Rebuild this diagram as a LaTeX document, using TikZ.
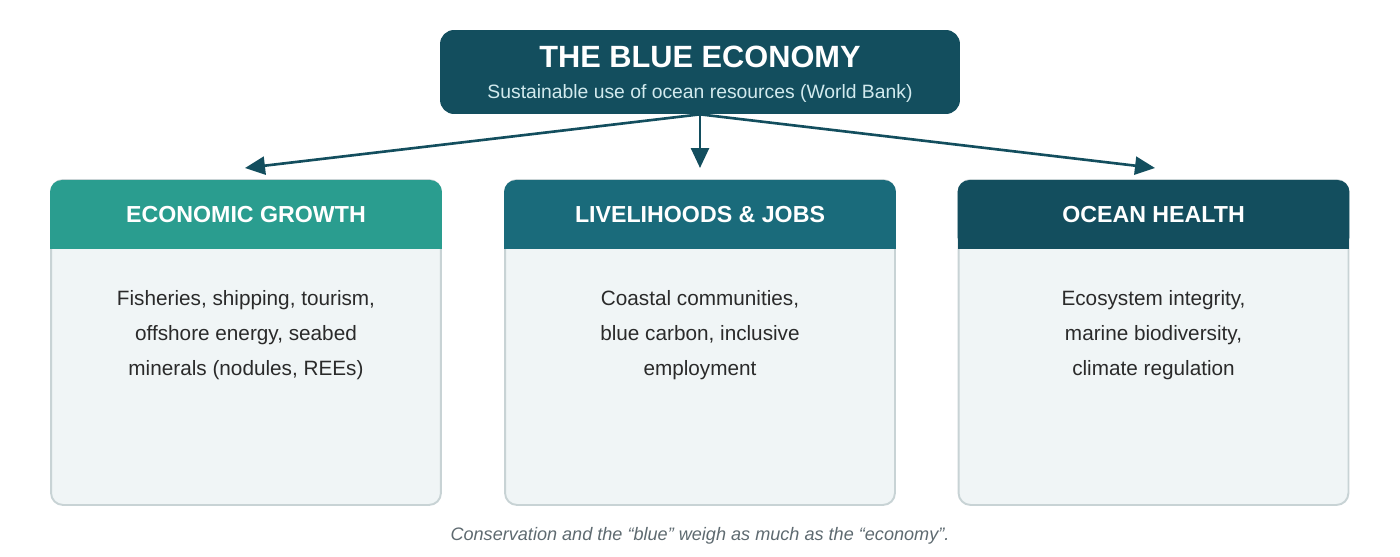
\documentclass[tikz,border=0pt]{standalone}
\usepackage{fontspec}
\setmainfont{Liberation Sans}
\usetikzlibrary{arrows.meta}
\definecolor{deepteal}{HTML}{134E5E}
\definecolor{midteal}{HTML}{1A6B7B}
\definecolor{seagreen}{HTML}{2A9D8F}
\definecolor{cardfill}{HTML}{F0F5F6}
\definecolor{cardline}{HTML}{C8D3D5}
\definecolor{bodytext}{HTML}{2A2A2A}
\definecolor{subtext}{HTML}{D2EAEE}
\definecolor{notetext}{HTML}{5E6A70}
\begin{document}
\begin{tikzpicture}
			[x=0.02cm,y=-0.02cm,
			card/.style={draw=cardline,line width=1.1pt,fill=cardfill,rounded corners=0.24cm,minimum width=7.8cm,minimum height=6.5cm},
			head/.style={rounded corners=0.24cm,outer sep=0pt,minimum width=7.84cm,minimum height=1.38cm},
			headtext/.style={text=white,font=\fontsize{13.2}{16}\selectfont\bfseries},
			body/.style={align=center,text=bodytext,font=\fontsize{11.8}{20}\selectfont},
			link/.style={-{Triangle[length=0.4cm,width=0.36cm]},color=deepteal,line width=1.5pt}]
			\useasboundingbox (0,0) rectangle (1400,557);
			% top box
			\node[fill=deepteal,rounded corners=0.28cm,minimum width=10.4cm,minimum height=1.68cm] (top) at (700,72) {};
			\node[anchor=base,text=white,font=\fontsize{17.5}{20}\selectfont\bfseries] (title) at (700,68) {THE BLUE ECONOMY};
			\node[anchor=base,text=subtext,font=\fontsize{11}{12}\selectfont] (subtitle) at (700,99) {Sustainable use of ocean resources (World Bank)};
			% cards
			\node[card] (growcard) at (246,342.5) {};
			\node[card] (jobscard) at (700,342.5) {};
			\node[card] (healthcard) at (1153.5,342.5) {};
			\node[head,fill=seagreen] (grow) at (246,214.5) {};
			\node[head,fill=midteal] (jobs) at (700,214.5) {};
			\node[head,fill=deepteal] (health) at (1153.5,214.5) {};
			\fill[seagreen] (grow.west) rectangle (grow.south east);
			\fill[midteal] (jobs.west) rectangle (jobs.south east);
			\fill[deepteal] (health.west) rectangle (health.south east);
			\node[headtext] (growhead) at (grow) {ECONOMIC GROWTH};
			\node[headtext] (jobshead) at (jobs) {LIVELIHOODS \& JOBS};
			\node[headtext] (healthhead) at (health) {OCEAN HEALTH};
			\node[body] (growtext) at (246,335) {Fisheries, shipping, tourism,\\offshore energy, seabed\\minerals (nodules, REEs)};
			\node[body] (jobstext) at (700,335) {Coastal communities,\\blue carbon, inclusive\\employment};
			\node[body] (healthtext) at (1153.5,335) {Ecosystem integrity,\\marine biodiversity,\\climate regulation};
			% arrows
			\coordinate (growtip) at (245,168);
			\coordinate (jobstip) at (700,168);
			\coordinate (healthtip) at (1155,168);
			\draw[link] (top.south) -- (growtip);
			\draw[link] (top.south) -- (jobstip);
			\draw[link] (top.south) -- (healthtip);
			\node[text=notetext,font=\fontsize{10.3}{12}\selectfont\itshape] (note) at (700,536) {Conservation and the “blue” weigh as much as the “economy”.};
		\end{tikzpicture}
\end{document}
